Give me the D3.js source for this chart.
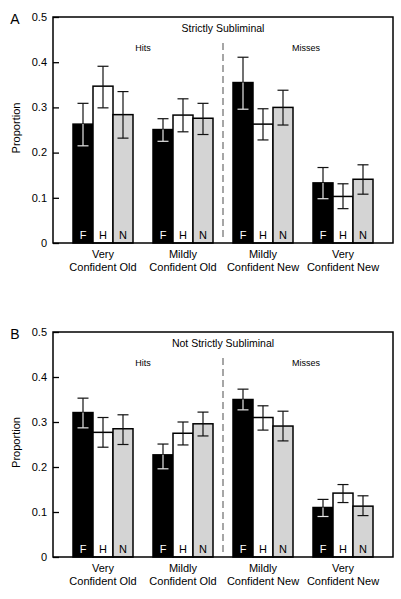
<!DOCTYPE html>
<html><head><meta charset="utf-8">
<script src="https://cdn.jsdelivr.net/npm/d3@7"></script>
<style>body{margin:0;background:#fff}svg{display:block;font-family:"Liberation Sans",Arial,sans-serif}</style>
</head><body>
<svg id="c" width="401" height="599"></svg>
<script>
const groups = ["Very|Confident Old","Mildly|Confident Old","Mildly|Confident New","Very|Confident New"];
const conds = ["F","H","N"];
const yTicks = [0,0.1,0.2,0.3,0.4,0.5];
const tickLabels = ["0","0.1","0.2","0.3","0.4","0.5"];
const panelLetters = ["A","B"];
const panelTitles = ["Strictly Subliminal","Not Strictly Subliminal"];
const halfLabels = ["Hits","Misses"];
// panel A values [group][cond]
const meanA = [[0.263,0.347,0.284],[0.251,0.283,0.276],[0.355,0.263,0.300],[0.133,0.103,0.141]];
const lowA  = [[0.215,0.299,0.232],[0.225,0.246,0.240],[0.296,0.228,0.261],[0.098,0.076,0.108]];
const highA = [[0.309,0.391,0.335],[0.275,0.319,0.309],[0.411,0.297,0.338],[0.167,0.131,0.173]];
// panel B values
const meanB = [[0.321,0.277,0.285],[0.227,0.275,0.296],[0.350,0.310,0.291],[0.110,0.142,0.113]];
const lowB  = [[0.287,0.244,0.250],[0.196,0.249,0.269],[0.327,0.282,0.258],[0.090,0.121,0.092]];
const highB = [[0.353,0.310,0.316],[0.251,0.300,0.322],[0.373,0.336,0.324],[0.128,0.161,0.136]];

const fills = {F:"#000000",H:"#ffffff",N:"#d4d4d4"};
const svg = d3.select("#c");
const panels = [
  {top:17,bottom:243,mean:meanA,low:lowA,high:highA},
  {top:332,bottom:557,mean:meanB,low:lowB,high:highB}
];
const left = 53, right = 393;

panels.forEach((p,pi)=>{
  const g = svg.append("g");
  const y = d3.scaleLinear().domain([0,0.5]).range([p.bottom,p.top]);
  const x0 = d3.scaleBand().domain(groups).range([left,right]).paddingInner(0.25).paddingOuter(0.25);
  const x1 = d3.scaleBand().domain(conds).range([0,x0.bandwidth()]);

  groups.forEach((gr,gi)=>{
    conds.forEach((c,ci)=>{
      const xx = x0(gr)+x1(c);
      const m = p.mean[gi][ci];
      g.append("rect").attr("x",xx).attr("y",y(m)).attr("width",x1.bandwidth()).attr("height",y(0)-y(m))
        .attr("fill",fills[c]).attr("stroke","#000").attr("stroke-width",1.5);
    });
  });
  groups.forEach((gr,gi)=>{
    conds.forEach((c,ci)=>{
      const cx = x0(gr)+x1(c)+x1.bandwidth()/2;
      const m=p.mean[gi][ci], lo=p.low[gi][ci], hi=p.high[gi][ci];
      const inner = c==="F" ? "#e6e6e6" : "#111";
      const outer = "#111";
      const cap = 5.5;
      g.append("line").attr("x1",cx).attr("x2",cx).attr("y1",y(hi)).attr("y2",y(m)).attr("stroke",outer).attr("stroke-width",1.2);
      g.append("line").attr("x1",cx-cap).attr("x2",cx+cap).attr("y1",y(hi)).attr("y2",y(hi)).attr("stroke",outer).attr("stroke-width",1.2);
      g.append("line").attr("x1",cx).attr("x2",cx).attr("y1",y(m)).attr("y2",y(lo)).attr("stroke",inner).attr("stroke-width",1.2);
      g.append("line").attr("x1",cx-cap).attr("x2",cx+cap).attr("y1",y(lo)).attr("y2",y(lo)).attr("stroke",inner).attr("stroke-width",1.2);
      g.append("text").attr("x",cx).attr("y",p.bottom-4).attr("text-anchor","middle")
        .attr("font-size",11).attr("fill",c==="F"?"#fff":"#000").text(c);
    });
  });
  g.append("rect").attr("x",left).attr("y",p.top).attr("width",right-left).attr("height",p.bottom-p.top)
    .attr("fill","none").attr("stroke","#000").attr("stroke-width",1.5);
  const ax = d3.axisRight(y).tickValues(yTicks).tickSize(6).tickFormat("");
  const axg = g.append("g").attr("transform",`translate(${left},0)`).call(ax);
  axg.select(".domain").remove();
  axg.selectAll("line").attr("stroke","#000").attr("stroke-width",1.3);
  yTicks.forEach((t,i)=>{
    g.append("text").attr("x",left-6).attr("y",y(t)).attr("dy","0.35em").attr("text-anchor","end")
      .attr("font-size",11).text(tickLabels[i]);
  });
  const dx = (x0(groups[1])+x0.bandwidth()+x0(groups[2]))/2;
  g.append("line").attr("x1",dx).attr("x2",dx).attr("y1",p.top+26).attr("y2",p.bottom-2)
    .attr("stroke","#777").attr("stroke-width",1.3).attr("stroke-dasharray","7,4");
  g.append("text").attr("x",dx).attr("y",p.top+15).attr("text-anchor","middle").attr("font-size",10.5).text(panelTitles[pi]);
  const hx = (x0(groups[0])+x0(groups[1])+x0.bandwidth())/2;
  const mx = (x0(groups[2])+x0(groups[3])+x0.bandwidth())/2;
  g.append("text").attr("x",hx).attr("y",p.top+34).attr("text-anchor","middle").attr("font-size",9).text(halfLabels[0]);
  g.append("text").attr("x",mx+3).attr("y",p.top+34).attr("text-anchor","middle").attr("font-size",9).text(halfLabels[1]);
  g.append("text").attr("x",15).attr("y",p.top+7).attr("text-anchor","middle").attr("font-size",14).text(panelLetters[pi]);
  g.append("text").attr("transform",`translate(20,${(p.top+p.bottom)/2-2}) rotate(-90)`).attr("text-anchor","middle")
    .attr("font-size",11).text("Proportion");
  groups.forEach(gr=>{
    const parts = gr.split("|");
    const cx = x0(gr)+x0.bandwidth()/2;
    parts.forEach((s,k)=>{
      g.append("text").attr("x",cx).attr("y",p.bottom+15+k*13).attr("text-anchor","middle").attr("font-size",11).text(s);
    });
  });
});
</script>
</body></html>
